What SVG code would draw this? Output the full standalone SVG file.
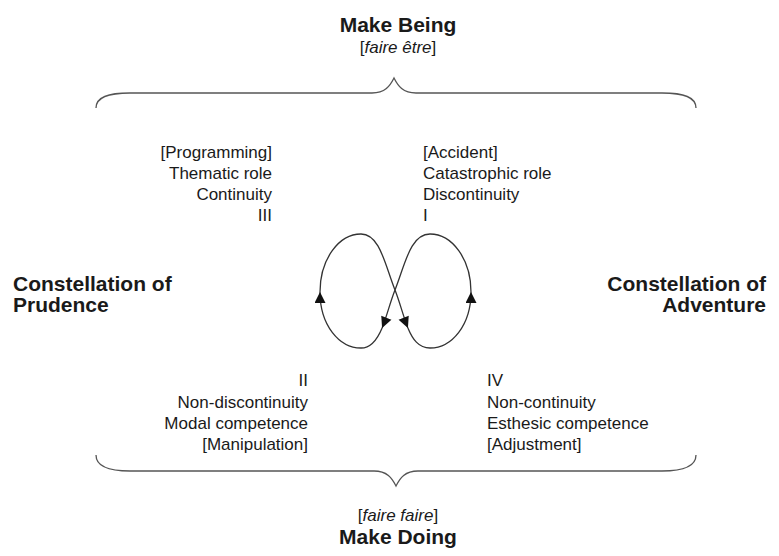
<svg xmlns="http://www.w3.org/2000/svg" width="779" height="556" viewBox="0 0 779 556">
<style>
text{font-family:"Liberation Sans",Arial,sans-serif;fill:#1a1a1a}
.r{font-size:17px}
.b{font-size:21px;font-weight:bold}
.i{font-style:italic}
.brace{fill:none;stroke:#555;stroke-width:1.3}
.loop{fill:none;stroke:#333;stroke-width:1.3}
</style>
<defs>
<marker id="ah" viewBox="0 0 10 10" refX="10" refY="5" markerWidth="12" markerHeight="11" markerUnits="userSpaceOnUse" orient="auto">
<path d="M0,0 L10,5 L0,10 z" fill="#111"/>
</marker>
</defs>
<rect width="779" height="556" fill="#fff"/>
<g id="top">
<text class="b" x="398" y="32" text-anchor="middle">Make Being</text>
<text class="r" x="398" y="53" text-anchor="middle">[<tspan class="i">faire être</tspan>]</text>
</g>
<g id="bottom">
<text class="r" x="398" y="521" text-anchor="middle">[<tspan class="i">faire faire</tspan>]</text>
<text class="b" x="398" y="544" text-anchor="middle">Make Doing</text>
</g>
<g id="braces">
<path class="brace" d="M96 108 C96 97 108 93 130 93 L372 93 C385 93 390 86 394 78 C398 86 403 93 416 93 L662 93 C684 93 696 97 696 108"/>
<path class="brace" d="M96 455 C96 466 108 471 130 471 L374 471 C387 471 392 478 396 486 C400 478 405 471 418 471 L662 471 C684 471 696 466 696 455"/>
</g>
<g id="quadIII">
<text class="r" x="272" y="158" text-anchor="end">[Programming]</text>
<text class="r" x="272" y="179" text-anchor="end">Thematic role</text>
<text class="r" x="272" y="200" text-anchor="end">Continuity</text>
<text class="r" x="272" y="221" text-anchor="end">III</text>
</g>
<g id="quadI">
<text class="r" x="423" y="158">[Accident]</text>
<text class="r" x="423" y="179">Catastrophic role</text>
<text class="r" x="423" y="200">Discontinuity</text>
<text class="r" x="423" y="221">I</text>
</g>
<g id="quadII">
<text class="r" x="308" y="386" text-anchor="end">II</text>
<text class="r" x="308" y="408" text-anchor="end">Non-discontinuity</text>
<text class="r" x="308" y="429" text-anchor="end">Modal competence</text>
<text class="r" x="308" y="450" text-anchor="end">[Manipulation]</text>
</g>
<g id="quadIV">
<text class="r" x="487" y="386">IV</text>
<text class="r" x="487" y="408">Non-continuity</text>
<text class="r" x="487" y="429">Esthesic competence</text>
<text class="r" x="487" y="450">[Adjustment]</text>
</g>
<g id="prudence">
<text class="b" x="13" y="291">Constellation of</text>
<text class="b" x="13" y="312">Prudence</text>
</g>
<g id="adventure">
<text class="b" x="766" y="291" text-anchor="end">Constellation of</text>
<text class="b" x="766" y="312" text-anchor="end">Adventure</text>
</g>
<g id="connectors">
<path class="loop" marker-end="url(#ah)" d="M320 292 C320 259 339 234 361 234 C380 234 385 265 395 290 C400 302.5 403.25 316.75 407.9 327.9"/>
<path class="loop" marker-end="url(#ah)" d="M407.9 327.9 C412.5 339 418.5 348 430 348 C452 348 471 325 471 292"/>
<path class="loop" marker-end="url(#ah)" d="M471 292 C471 259 452 234 430 234 C410 234 405 265 395 290 C390 302.5 386.75 316.75 382.1 327.9"/>
<path class="loop" marker-end="url(#ah)" d="M382.1 327.9 C377.5 339 371.5 348 361 348 C339 348 320 325 320 292"/>
</g>
</svg>
